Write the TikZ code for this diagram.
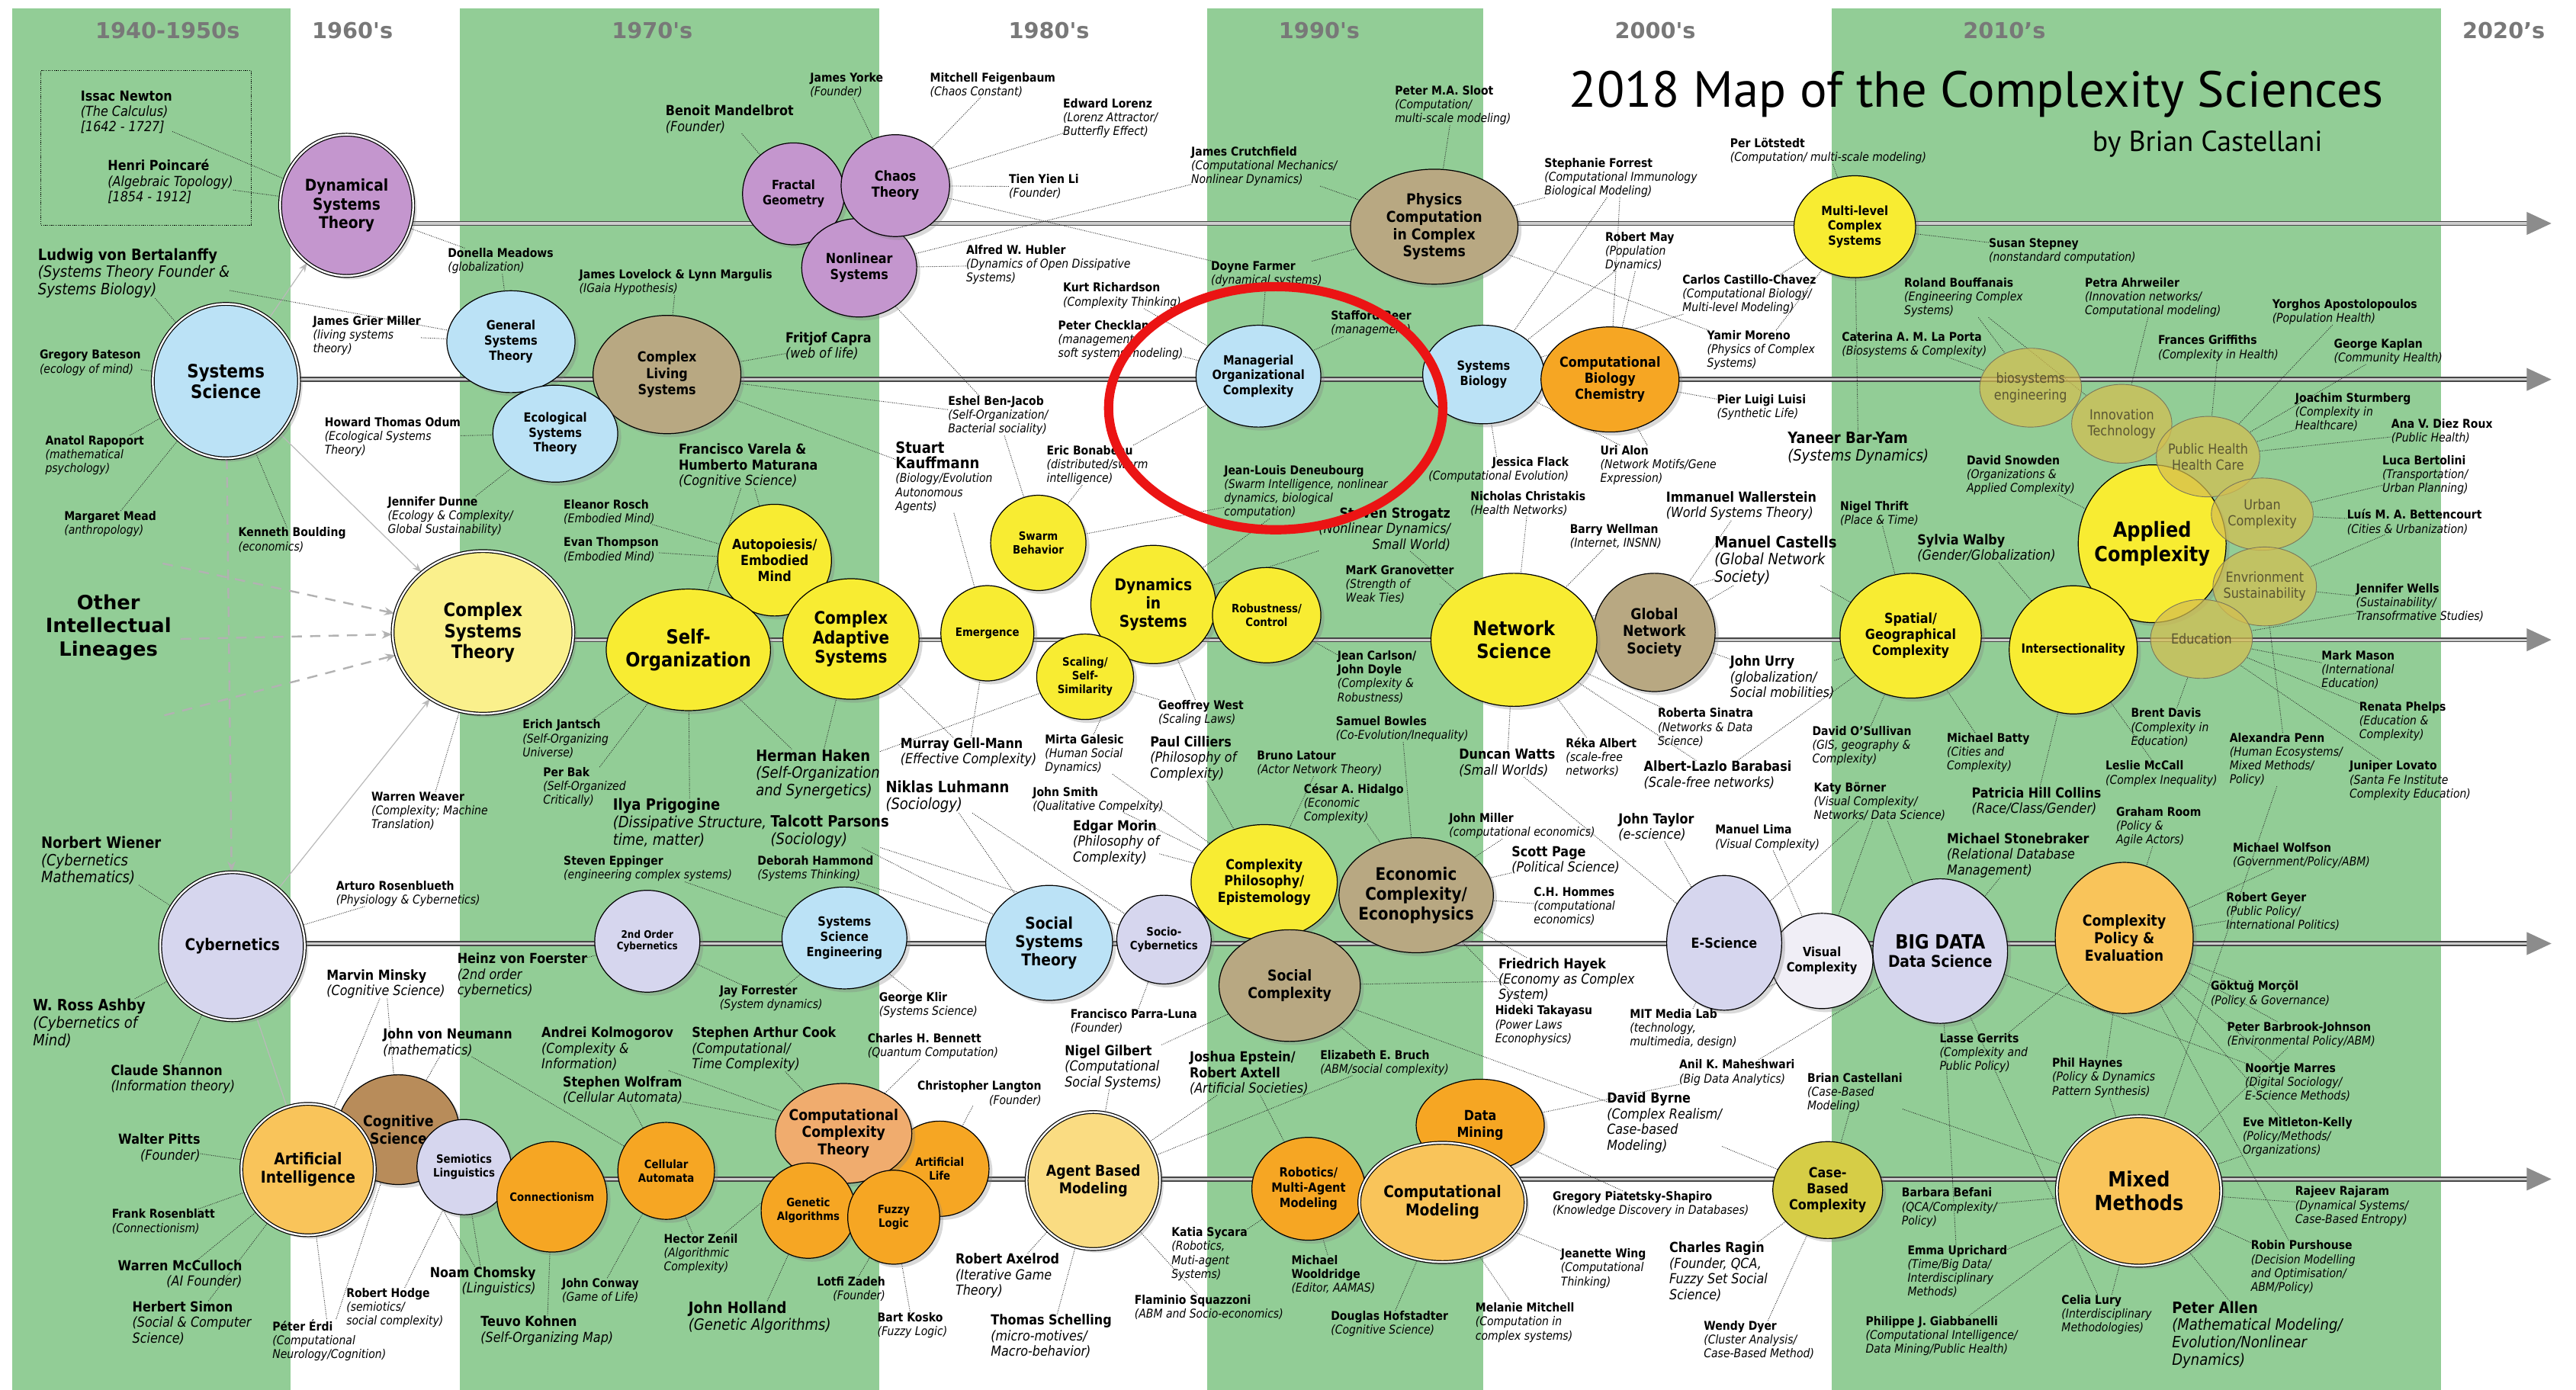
\documentclass[tikz,border=0pt]{standalone}
\usepackage{fontspec}
\setmainfont{DejaVu Sans}[FakeStretch=0.88]
\newfontfamily\widefont{DejaVu Sans}
\newfontfamily\titlefont{PT Sans}
\usetikzlibrary{shapes.geometric}
\usetikzlibrary{shadows}
\usetikzlibrary{arrows.meta}
\definecolor{band}{RGB}{146,205,150}
\definecolor{decgray}{RGB}{120,120,120}
\definecolor{cpurple}{RGB}{196,150,206}
\definecolor{cblue}{RGB}{187,226,246}
\definecolor{ctan}{RGB}{184,168,130}
\definecolor{cbrown}{RGB}{184,140,90}
\definecolor{cyell}{RGB}{248,236,50}
\definecolor{cpale}{RGB}{250,240,140}
\definecolor{clav}{RGB}{214,214,238}
\definecolor{clavl}{RGB}{240,238,246}
\definecolor{corange}{RGB}{246,166,35}
\definecolor{clorange}{RGB}{249,196,90}
\definecolor{cpeach}{RGB}{240,172,110}
\definecolor{cabm}{RGB}{250,220,130}
\definecolor{colive}{RGB}{214,205,70}
\definecolor{ckhaki}{RGB}{212,190,80}
\definecolor{ckhtext}{RGB}{90,85,50}
\definecolor{tldark}{RGB}{70,70,70}
\definecolor{tlgap}{RGB}{205,205,205}
\definecolor{arrowgray}{RGB}{140,140,140}
\definecolor{hlred}{RGB}{235,20,20}
\newcommand{\pn}[1]{{\upshape\bfseries #1}}
\newcommand{\pnb}[1]{{\upshape\bfseries\fontsize{13.5}{15}\selectfont #1}}
\pgfdeclarelayer{bands}
\pgfdeclarelayer{links}
\pgfsetlayers{bands,links,main}
\tikzset{
  ball/.style={ellipse, draw=black, line width=0.8pt, inner sep=0pt,
    drop shadow={opacity=0.3, shadow xshift=3pt, shadow yshift=-3pt}},
  ring/.style={double=white, double distance=1.6pt},
  sz/.style 2 args={minimum width=#1*0.1cm, minimum height=#2*0.1cm},
  tx/.style={font=\bfseries\fontsize{#1}{\the\numexpr#1*115/100\relax}\selectfont},
  pale/.style={ellipse, draw=ckhtext!80, line width=0.6pt, fill=ckhaki, fill opacity=0.72, inner sep=0pt},
  kt/.style={text=ckhtext, font=\fontsize{12}{14}\selectfont},
  every label/.append style={align=center},
  who/.style={anchor=north west, align=left, inner sep=0pt, font=\fontsize{10.5}{12}\selectfont\itshape},
  whom/.style={who, font=\fontsize{12}{13.5}\selectfont\itshape},
  whob/.style={who, font=\fontsize{13.5}{15}\selectfont\itshape},
  dec/.style={anchor=base, inner sep=0pt, text=decgray, font=\widefont\bfseries\fontsize{19}{22}\selectfont},
  lk/.style={densely dotted, line width=0.6pt, black!85},
  tline/.style={draw=tldark, line width=1.1pt, double=tlgap, double distance=2pt},
  lin/.style={draw=gray!60, dash pattern=on 9pt off 7pt, line width=1.6pt, -{Stealth[length=9pt, width=7pt]}},
  gar/.style={draw=gray!55, line width=0.8pt, -{Stealth[length=8pt, width=6pt]}}
}
\begin{document}
\begin{tikzpicture}[x=0.05cm, y=-0.05cm]
\useasboundingbox (0,0) rectangle (1568,846);

% decade bands
\begin{pgfonlayer}{bands}
\fill[band] (7.5,5) rectangle (177,846);
\fill[band] (280,5) rectangle (535,846);
\fill[band] (735,5) rectangle (903,846);
\fill[band] (1115,5) rectangle (1486,846);
\end{pgfonlayer}

\node[dec] (d40) at (102,23.5) {1940-1950s}; %
\node[dec] (d60) at (214.5,23.5) {1960's}; %
\node[dec] (d70) at (397,23.5) {1970's}; %
\node[dec] (d80) at (638.5,23.5) {1980's}; %
\node[dec] (d90) at (803,23.5) {1990's}; %
\node[dec] (d00) at (1007.5,23.5) {2000's}; %
\node[dec] (d10) at (1220,23.5) {2010’s}; %
\node[dec] (d20) at (1524,23.5) {2020’s}; %

\node[anchor=base west, inner sep=0pt, font=\titlefont\fontsize{44}{48}\selectfont] (title) at (955,65) {2018 Map of the Complexity Sciences}; %
\node[anchor=base west, inner sep=0pt, font=\titlefont\fontsize{25}{28}\selectfont] (byline) at (1273.5,92) {by Brian Castellani}; %

\node[draw, densely dotted, line width=0.8pt, minimum width=6.4cm, minimum height=4.7cm, inner sep=0pt] (oldbox) at (89,90) {}; %
\node[align=center, inner sep=0pt, font=\widefont\bfseries\fontsize{17}{20}\selectfont] (lineage) at (66,382) {Other\\Intellectual\\Lineages}; %

% fields, row by row
\node[ball, ring, fill=cpurple, sz={40.5}{43}, label={[tx=14]center:Dynamical\\Systems\\Theory}] (dst) at (211,125) {}; %
\node[ball, ring, fill=cblue, sz={44.5}{47}, label={[tx=16]center:Systems\\Science}] (ssci) at (137.5,232) {}; %
\node[ball, fill=cblue, sz={39}{31}, label={[tx=11]center:General\\Systems\\Theory}] (gst) at (311,208) {}; %
\node[ball, fill=ctan, sz={45}{36}, label={[tx=12]center:Complex\\Living\\Systems}] (cls) at (406,228) {}; %
\node[ball, fill=cblue, sz={38}{29.5}, label={[tx=11]center:Ecological\\Systems\\Theory}] (est) at (338,264) {}; %
\node[ball, fill=cpurple, sz={31}{31}, label={[tx=11]center:Fractal\\Geometry}] (frac) at (483,118) {}; %
\node[ball, fill=cpurple, sz={35}{30}, label={[tx=12]center:Nonlinear\\Systems}] (nls) at (523,163) {}; %
\node[ball, fill=cpurple, sz={33}{31}, label={[tx=12]center:Chaos\\Theory}] (chaos) at (545,113) {}; %
\node[ball, fill=ctan, sz={51}{35}, label={[tx=13]center:Physics\\Computation\\in Complex\\Systems}] (phys) at (873,138) {}; %
\node[ball, fill=cblue, sz={38}{31}, label={[tx=11]center:Managerial\\Organizational\\Complexity}] (moc) at (766,229) {}; %
\node[ball, fill=cblue, sz={37}{30}, label={[tx=11]center:Systems\\Biology}] (sbio) at (903,228) {}; %
\node[ball, fill=corange, sz={42}{32}, label={[tx=12]center:Computational\\Biology\\Chemistry}] (cbio) at (980,231) {}; %
\node[ball, fill=cyell, sz={37}{31}, label={[tx=11]center:Multi-level\\Complex\\Systems}] (mlcs) at (1129,138) {}; %

\node[ball, fill=cyell, sz={45}{48}, label={[tx=18]center:Applied\\Complexity}] (appl) at (1310,331) {}; %
\node[pale, sz={31}{24}, label={[kt]center:biosystems\\engineering}] (bioe) at (1236,236) {}; %
\node[pale, sz={30.5}{24}, label={[kt]center:Innovation\\Technology}] (innov) at (1291.5,258) {}; %
\node[pale, sz={31.5}{24.5}, label={[kt]center:Public Health\\Health Care}] (phc) at (1344,278) {}; %
\node[pale, sz={31}{22}, label={[kt]center:Urban\\Complexity}] (urban) at (1377,313) {}; %
\node[pale, sz={31.5}{24}, label={[kt]center:Envrionment\\Sustainability}] (envs) at (1378.5,357) {}; %
\node[pale, sz={31}{24}, label={[kt]center:Education}] (edu) at (1340,389) {}; %
\node[ball, fill=cyell, sz={39}{39}, label={[tx=11]center:Intersectionality}] (inter) at (1262,395.6) {}; %
\node[ball, fill=cyell, sz={43}{38}, label={[tx=12]center:Spatial/\\Geographical\\Complexity}] (spat) at (1163,387) {}; %
\node[ball, fill=ctan, sz={37}{36}, label={[tx=13]center:Global\\Network\\Society}] (gns) at (1007,385) {}; %
\node[ball, fill=cyell, sz={50.5}{40.5}, label={[tx=17]center:Network\\Science}] (netsci) at (921.5,389.5) {}; %

\node[ball, ring, fill=cpale, sz={55}{49.5}, label={[tx=16]center:Complex\\Systems\\Theory}] (cst) at (294,385) {}; %
\node[ball, fill=cyell, sz={34.6}{34}, label={[tx=12]center:Autopoiesis/\\Embodied\\Mind}] (auto) at (471.5,341) {}; %
\node[ball, fill=cyell, sz={50}{37}, label={[tx=17]center:Self-\\Organization}] (selforg) at (419,395.6) {}; %
\node[ball, fill=cyell, sz={41.4}{36.7}, label={[tx=15]center:Complex\\Adaptive\\Systems}] (cas) at (518,389) {}; %
\node[ball, fill=cyell, sz={28.3}{29}, label={[tx=10]center:Emergence}] (emer) at (601,385.5) {}; %
\node[ball, fill=cyell, sz={29}{29}, label={[tx=10]center:Swarm\\Behavior}] (swarm) at (632,330.5) {}; %
\node[ball, fill=cyell, sz={38}{36}, label={[tx=14]center:Dynamics\\in\\Systems}] (dyn) at (702,368) {}; %
\node[ball, fill=cyell, sz={29.5}{26}, label={[tx=10]center:Scaling/\\Self-\\Similarity}] (scal) at (660.5,412) {}; %
\node[ball, fill=cyell, sz={33}{29}, label={[tx=10]center:Robustness/\\Control}] (robu) at (771,374.5) {}; %

\node[ball, ring, fill=clav, sz={44}{45}, label={[tx=14]center:Cybernetics}] (cyb) at (141.5,576) {}; %
\node[ball, fill=clav, sz={32}{31}, label={[tx=9]center:2nd Order\\Cybernetics}] (cyb2) at (394,573) {}; %
\node[ball, fill=cblue, sz={38}{31}, label={[tx=11]center:Systems\\Science\\Engineering}] (sse) at (514,571) {}; %
\node[ball, fill=cblue, sz={38.6}{35}, label={[tx=14]center:Social\\Systems\\Theory}] (sst) at (638.6,574) {}; %
\node[ball, fill=clav, sz={28.7}{27}, label={[tx=10]center:Socio-\\Cybernetics}] (socyb) at (708.5,572) {}; %
\node[ball, fill=cyell, sz={44.5}{35}, label={[tx=12]center:Complexity\\Philosophy/\\Epistemology}] (cphil) at (769.5,537) {}; %
\node[ball, fill=ctan, sz={43}{34}, label={[tx=13]center:Social\\Complexity}] (socc) at (785,600) {}; %
\node[ball, fill=ctan, sz={47}{35}, label={[tx=15]center:Economic\\Complexity/\\Econophysics}] (econ) at (862,545) {}; %
\node[ball, fill=clavl, sz={31}{29}, label={[tx=11]center:Visual\\Complexity}] (visc) at (1109,585) {}; %
\node[ball, fill=clav, sz={35}{41}, label={[tx=12]center:E-Science}] (esci) at (1049.5,574) {}; %
\node[ball, fill=clav, sz={41}{44}, label={[tx=14]center:{\fontsize{17}{19}\selectfont BIG DATA}\\Data Science}] (bigd) at (1181,579) {}; %
\node[ball, fill=clorange, sz={42}{46}, label={[tx=13]center:Complexity\\Policy \&\\Evaluation}] (cpol) at (1293,571) {}; %

\node[ball, fill=cbrown, sz={37}{33.4}, label={[tx=13]center:Cognitive\\Science}] (cogs) at (242.5,687.7) {}; %
\node[ball, ring, fill=clorange, sz={40.6}{40}, label={[tx=14]center:Artificial\\Intelligence}] (ai) at (187.5,712) {}; %
\node[ball, fill=clav, sz={28.7}{29}, label={[tx=10]center:Semiotics\\Linguistics}] (semi) at (282.5,710.5) {}; %
\node[ball, fill=corange, sz={33.5}{33.6}, label={[tx=10]center:Connectionism}] (conn) at (336,728.6) {}; %
\node[ball, fill=corange, sz={29.4}{29.5}, label={[tx=10]center:Cellular\\Automata}] (cell) at (405.5,712.8) {}; %
\node[ball, fill=corange, sz={30}{29}, label={[tx=10]center:Artificial\\Life}] (alife) at (572,711.5) {}; %
\node[ball, fill=cpeach, sz={41.5}{30.4}, label={[tx=13]center:Computational\\Complexity\\Theory}] (cct) at (513.5,690) {}; %
\node[ball, fill=corange, sz={28.7}{29}, label={[tx=10]center:Genetic\\Algorithms}] (gen) at (492,737) {}; %
\node[ball, fill=corange, sz={28}{28.6}, label={[tx=10]center:Fuzzy\\Logic}] (fuzzy) at (544,741) {}; %
\node[ball, ring, fill=cabm, sz={40.6}{41.7}, label={[tx=13]center:Agent Based\\Modeling}] (abm) at (665.5,718.7) {}; %
\node[ball, fill=corange, sz={34.5}{31.3}, label={[tx=11]center:Robotics/\\Multi-Agent\\Modeling}] (robo) at (796.5,723.7) {}; %
\node[ball, fill=corange, sz={39}{28}, label={[tx=12]center:Data\\Mining}] (dmin) at (901,685) {}; %
\node[ball, ring, fill=clorange, sz={50.6}{36.3}, label={[tx=14]center:Computational\\Modeling}] (cmod) at (878,732) {}; %
\node[ball, fill=colive, sz={33.4}{29.5}, label={[tx=12]center:Case-\\Based\\Complexity}] (cbc) at (1112.5,724.5) {}; %
\node[ball, ring, fill=clorange, sz={50}{45.5}, label={[tx=18]center:Mixed\\Methods}] (mixed) at (1302,725) {}; %

% people
\node[whom] (newton) at (49,55) {\pn{Issac Newton}\\(The Calculus)\\{[}1642 - 1727{]}}; %
\node[whom] (poinc) at (65.5,97) {\pn{Henri Poincaré}\\(Algebraic Topology)\\{[}1854 - 1912{]}}; %
\node[whob] (ludwig) at (23,151) {\pn{Ludwig von Bertalanffy}\\(Systems Theory Founder \&\\Systems Biology)}; %
\node[who] (bateson) at (24,213) {\pn{Gregory Bateson}\\(ecology of mind)}; %
\node[who] (rapoport) at (27.5,265) {\pn{Anatol Rapoport}\\(mathematical\\psychology)}; %
\node[who] (mead) at (39,311) {\pn{Margaret Mead}\\(anthropology)}; %
\node[who] (boulding) at (145,321) {\pn{Kenneth Boulding}\\(economics)}; %
\node[who] (meadows) at (272.5,151) {\pn{Donella Meadows}\\(globalization)}; %
\node[who] (miller) at (190.5,192) {\pn{James Grier Miller}\\(living systems\\theory)}; %
\node[who] (odum) at (197.5,254) {\pn{Howard Thomas Odum}\\(Ecological Systems\\Theory)}; %
\node[who] (dunne) at (236,302) {\pn{Jennifer Dunne}\\(Ecology \& Complexity/\\Global Sustainability)}; %
\node[who] (lovelock) at (352.5,164) {\pn{James Lovelock \& Lynn Margulis}\\(IGaia Hypothesis)}; %
\node[whom] (capra) at (478,202) {\pn{Fritjof Capra}\\(web of life)}; %
\node[whom] (mandel) at (405,64) {\pn{Benoit Mandelbrot}\\(Founder)}; %
\node[who] (yorke) at (493,44) {\pn{James Yorke}\\(Founder)}; %
\node[who] (feigen) at (566,44) {\pn{Mitchell Feigenbaum}\\(Chaos Constant)}; %
\node[who] (lorenz) at (647,60) {\pn{Edward Lorenz}\\(Lorenz Attractor/\\Butterfly Effect)}; %
\node[who] (li) at (614,106) {\pn{Tien Yien Li}\\(Founder)}; %
\node[who] (crutch) at (725,89) {\pn{James Crutchfield}\\(Computational Mechanics/\\Nonlinear Dynamics)}; %
\node[who] (hubler) at (588,149) {\pn{Alfred W. Hubler}\\(Dynamics of Open Dissipative\\Systems)}; %
\node[who] (farmer) at (737,159) {\pn{Doyne Farmer}\\(dynamical systems)}; %
\node[who] (richardson) at (647,172) {\pn{Kurt Richardson}\\(Complexity Thinking)}; %
\node[who] (checkland) at (644,195) {\pn{Peter Checkland}\\(management/\\soft systems modeling)}; %
\node[who] (beer) at (810,189) {\pn{Stafford Beer}\\(management)}; %
\node[who] (benjacob) at (577,241) {\pn{Eshel Ben-Jacob}\\(Self-Organization/\\Bacterial sociality)}; %
\node[who] (bonabeau) at (637,271) {\pn{Eric Bonabeau}\\(distributed/swarm\\intelligence)}; %
\node[who] (kauffman) at (545,269) {\pnb{Stuart}\\[1pt]\pnb{Kauffmann}\\(Biology/Evolution\\Autonomous\\Agents)}; %
\node[whom] (varela) at (413,270) {\pn{Francisco Varela \&}\\\pn{Humberto Maturana}\\(Cognitive Science)}; %
\node[who] (rosch) at (343,304) {\pn{Eleanor Rosch}\\(Embodied Mind)}; %
\node[who] (thompson) at (343,327) {\pn{Evan Thompson}\\(Embodied Mind)}; %
\node[who] (sloot) at (849,52) {\pn{Peter M.A. Sloot}\\(Computation/\\multi-scale modeling)}; %
\node[who] (forrest) at (940,96) {\pn{Stephanie Forrest}\\(Computational Immunology\\Biological Modeling)}; %
\node[who] (may) at (977,141) {\pn{Robert May}\\(Population\\Dynamics)}; %
\node[who] (castillo) at (1024,167) {\pn{Carlos Castillo-Chavez}\\(Computational Biology/\\Multi-level Modeling)}; %
\node[who] (moreno) at (1039,201) {\pn{Yamir Moreno}\\(Physics of Complex\\Systems)}; %
\node[who] (luisi) at (1045,240) {\pn{Pier Luigi Luisi}\\(Synthetic Life)}; %
\node[who] (lotstedt) at (1053,84) {\pn{Per Lötstedt}\\(Computation/ multi-scale modeling)}; %
\node[who] (stepney) at (1210.5,145) {\pn{Susan Stepney}\\(nonstandard computation)}; %
\node[whob] (baryam) at (1088,263) {\pn{Yaneer Bar-Yam}\\(Systems Dynamics)}; %
\node[who] (bouffanais) at (1159,169) {\pn{Roland Bouffanais}\\(Engineering Complex\\Systems)}; %
\node[who] (laporta) at (1121,202) {\pn{Caterina A. M. La Porta}\\(Biosystems \& Complexity)}; %
\node[who] (ahrweiler) at (1269,169) {\pn{Petra Ahrweiler}\\(Innovation networks/\\Computational modeling)}; %
\node[who] (griffiths) at (1313.5,204) {\pn{Frances Griffiths}\\(Complexity in Health)}; %
\node[who] (apostol) at (1383,182) {\pn{Yorghos Apostolopoulos}\\(Population Health)}; %
\node[who] (kaplan) at (1420.5,206) {\pn{George Kaplan}\\(Community Health)}; %
\node[who] (sturmberg) at (1397,239) {\pn{Joachim Sturmberg}\\(Complexity in\\Healthcare)}; %
\node[who] (diezroux) at (1455.5,255) {\pn{Ana V. Diez Roux}\\(Public Health)}; %
\node[who] (bertolini) at (1450,277) {\pn{Luca Bertolini}\\(Transportation/\\Urban Planning)}; %
\node[who] (bettencourt) at (1428.5,310) {\pn{Luís M. A. Bettencourt}\\(Cities \& Urbanization)}; %
\node[who] (wells) at (1434,355) {\pn{Jennifer Wells}\\(Sustainability/\\Transofrmative Studies)}; %
\node[who] (snowden) at (1197,277) {\pn{David Snowden}\\(Organizations \&\\Applied Complexity)}; %
\node[whom] (walby) at (1167,325) {\pn{Sylvia Walby}\\(Gender/Globalization)}; %
\node[who] (thrift) at (1120,305) {\pn{Nigel Thrift}\\(Place \& Time)}; %
\node[who] (mason) at (1413,396) {\pn{Mark Mason}\\(International\\Education)}; %
\node[who] (phelps) at (1436,427) {\pn{Renata Phelps}\\(Education \&\\Complexity)}; %
\node[who] (penn) at (1357,446) {\pn{Alexandra Penn}\\(Human Ecosystems/\\Mixed Methods/\\Policy)}; %
\node[who] (lovato) at (1430,463) {\pn{Juniper Lovato}\\(Santa Fe Institute\\Complexity Education)}; %
\node[who] (davis) at (1297,431) {\pn{Brent Davis}\\(Complexity in\\Education)}; %
\node[who] (mccall) at (1281.5,463) {\pn{Leslie McCall}\\(Complex Inequality)}; %
\node[who] (batty) at (1185,446) {\pn{Michael Batty}\\(Cities and\\Complexity)}; %
\node[whom] (collins) at (1200,479) {\pn{Patricia Hill Collins}\\(Race/Class/Gender)}; %
\node[who] (room) at (1288,491) {\pn{Graham Room}\\(Policy \&\\Agile Actors)}; %
\node[whom] (stonebraker) at (1185,507) {\pn{Michael Stonebraker}\\(Relational Database\\Management)}; %
\node[who] (wolfson) at (1359,513) {\pn{Michael Wolfson}\\(Government/Policy/ABM)}; %
\node[who] (geyer) at (1355,543) {\pn{Robert Geyer}\\(Public Policy/\\International Politics)}; %
\node[who] (morcol) at (1345.5,597) {\pn{Göktuğ Morçöl}\\(Policy \& Governance)}; %
\node[who] (barbrook) at (1355.5,622) {\pn{Peter Barbrook-Johnson}\\(Environmental Policy/ABM)}; %
\node[who] (marres) at (1366.5,647) {\pn{Noortje Marres}\\(Digital Sociology/\\E-Science Methods)}; %
\node[who] (mitleton) at (1365,680) {\pn{Eve Mitleton-Kelly}\\(Policy/Methods/\\Organizations)}; %
\node[who] (rajaram) at (1397,722) {\pn{Rajeev Rajaram}\\(Dynamical Systems/\\Case-Based Entropy)}; %
\node[who] (purshouse) at (1370,755) {\pn{Robin Purshouse}\\(Decision Modelling\\and Optimisation/\\ABM/Policy)}; %
\node[whob] (allen) at (1322,792) {\pn{Peter Allen}\\(Mathematical Modeling/\\Evolution/Nonlinear\\Dynamics)}; %
\node[who] (lury) at (1254.75,788) {\pn{Celia Lury}\\(Interdisciplinary\\Methodologies)}; %
\node[who] (haynes) at (1249,644) {\pn{Phil Haynes}\\(Policy \& Dynamics\\Pattern Synthesis)}; %
\node[who] (gerrits) at (1180.5,629) {\pn{Lasse Gerrits}\\(Complexity and\\Public Policy)}; %
\node[who] (befani) at (1157.5,723) {\pn{Barbara Befani}\\(QCA/Complexity/\\Policy)}; %
\node[who] (uprichard) at (1161,758) {\pn{Emma Uprichard}\\(Time/Big Data/\\Interdisciplinary\\Methods)}; %
\node[who] (giabbanelli) at (1135.5,801) {\pn{Philippe J. Giabbanelli}\\(Computational Intelligence/\\Data Mining/Public Health)}; %
\node[who] (castellani) at (1100,653) {\pn{Brian Castellani}\\(Case-Based\\Modeling)}; %
\node[who] (maheshwari) at (1022,645) {\pn{Anil K. Maheshwari}\\(Big Data Analytics)}; %
\node[who] (dyer) at (1037,804) {\pn{Wendy Dyer}\\(Cluster Analysis/\\Case-Based Method)}; %
\node[whom] (ragin) at (1016,756) {\pn{Charles Ragin}\\(Founder, QCA,\\Fuzzy Set Social\\Science)}; %
\node[whom] (byrne) at (978,665) {\pn{David Byrne}\\(Complex Realism/\\Case-based\\Modeling)}; %
\node[who] (piatetsky) at (945,725) {\pn{Gregory Piatetsky-Shapiro}\\(Knowledge Discovery in Databases)}; %
\node[who] (wing) at (950,760) {\pn{Jeanette Wing}\\(Computational\\Thinking)}; %
\node[who] (mitchell) at (898,793) {\pn{Melanie Mitchell}\\(Computation in\\complex systems)}; %
\node[who] (hofstadter) at (810,798) {\pn{Douglas Hofstadter}\\(Cognitive Science)}; %
\node[who] (wooldridge) at (786,764) {\pn{Michael}\\\pn{Wooldridge}\\(Editor, AAMAS)}; %
\node[who] (medialab) at (992,614) {\pn{MIT Media Lab}\\(technology,\\multimedia, design)}; %
\node[whom] (taylor) at (985,495) {\pn{John Taylor}\\(e-science)}; %
\node[who] (lima) at (1044,502) {\pn{Manuel Lima}\\(Visual Complexity)}; %
\node[who] (borner) at (1104,476) {\pn{Katy Börner}\\(Visual Complexity/\\Networks/ Data Science)}; %
\node[who] (osullivan) at (1103,442) {\pn{David O'Sullivan}\\(GIS, geography \&\\Complexity)}; %
\node[whom] (urry) at (1053,399) {\pn{John Urry}\\(globalization/\\Social mobilities)}; %
\node[whob] (castells) at (1043.5,326) {\pn{Manuel Castells}\\(Global Network\\Society)}; %
\node[whom] (wallerstein) at (1014,299) {\pn{Immanuel Wallerstein}\\(World Systems Theory)}; %
\node[who] (wellman) at (955.5,319) {\pn{Barry Wellman}\\(Internet, INSNN)}; %
\node[who] (christakis) at (895,299) {\pn{Nicholas Christakis}\\(Health Networks)}; %
\node[who, anchor=north east, align=right] (flack) at (955,278) {\pn{Jessica Flack}\\(Computational Evolution)}; %
\node[who] (alon) at (974,271) {\pn{Uri Alon}\\(Network Motifs/Gene\\Expression)}; %
\node[who] (deneubourg) at (745,283) {\pn{Jean-Louis Deneubourg}\\(Swarm Intelligence, nonlinear\\dynamics, biological\\computation)}; %
\node[whom, anchor=north east, align=right] (strogatz) at (883,309) {\pn{Steven Strogatz}\\(Nonlinear Dynamics/\\Small World)}; %
\node[who] (granovetter) at (819,344) {\pn{MarK Granovetter}\\(Strength of\\Weak Ties)}; %
\node[who] (carlson) at (814,396) {\pn{Jean Carlson/}\\\pn{John Doyle}\\(Complexity \&\\Robustness)}; %
\node[who] (bowles) at (813,436) {\pn{Samuel Bowles}\\(Co-Evolution/Inequality)}; %
\node[who] (latour) at (765,457) {\pn{Bruno Latour}\\(Actor Network Theory)}; %
\node[who] (hidalgo) at (793.5,477) {\pn{César A. Hidalgo}\\(Economic\\Complexity)}; %
\node[who] (jmiller) at (882,495) {\pn{John Miller}\\(computational economics)}; %
\node[whom] (page) at (920,515) {\pn{Scott Page}\\(Political Science)}; %
\node[who] (hommes) at (933.5,540) {\pn{C.H. Hommes}\\(computational\\economics)}; %
\node[whom] (watts) at (888,456) {\pn{Duncan Watts}\\(Small Worlds)}; %
\node[who] (albert) at (953,449) {\pn{Réka Albert}\\(scale-free\\networks)}; %
\node[who] (sinatra) at (1009,431) {\pn{Roberta Sinatra}\\(Networks \& Data\\Science)}; %
\node[whom] (barabasi) at (1000.5,463) {\pn{Albert-Lazlo Barabasi}\\(Scale-free networks)}; %
\node[who] (west) at (705,426) {\pn{Geoffrey West}\\(Scaling Laws)}; %
\node[who] (galesic) at (636,447) {\pn{Mirta Galesic}\\(Human Social\\Dynamics)}; %
\node[whom] (cilliers) at (700,448) {\pn{Paul Cilliers}\\(Philosophy of\\Complexity)}; %
\node[whom] (gellmann) at (548,449) {\pn{Murray Gell-Mann}\\(Effective Complexity)}; %
\node[whob] (haken) at (460,456) {\pn{Herman Haken}\\(Self-Organization\\and Synergetics)}; %
\node[whob] (luhmann) at (539,475) {\pn{Niklas Luhmann}\\(Sociology)}; %
\node[who] (jsmith) at (628.5,479) {\pn{John Smith}\\(Qualitative Compelxity)}; %
\node[whom] (morin) at (653,499) {\pn{Edgar Morin}\\(Philosophy of\\Complexity)}; %
\node[whob] (parsons) at (469,496) {\pn{Talcott Parsons}\\(Sociology)}; %
\node[who] (hammond) at (461,521) {\pn{Deborah Hammond}\\(Systems Thinking)}; %
\node[who] (eppinger) at (343,521) {\pn{Steven Eppinger}\\(engineering complex systems)}; %
\node[whob] (prigogine) at (373,486) {\pn{Ilya Prigogine}\\(Dissipative Structure,\\time, matter)}; %
\node[who] (jantsch) at (318,438) {\pn{Erich Jantsch}\\(Self-Organizing\\Universe)}; %
\node[who] (bak) at (330.5,467) {\pn{Per Bak}\\(Self-Organized\\Critically)}; %
\node[who] (weaver) at (226,482) {\pn{Warren Weaver}\\(Complexity; Machine\\Translation)}; %
\node[whob] (wiener) at (25,509) {\pn{Norbert Wiener}\\(Cybernetics\\Mathematics)}; %
\node[who] (rosenblueth) at (204.5,536) {\pn{Arturo Rosenblueth}\\(Physiology \& Cybernetics)}; %
\node[whob] (ashby) at (20,608) {\pn{W. Ross Ashby}\\(Cybernetics of\\Mind)}; %
\node[whom] (shannon) at (67.5,648) {\pn{Claude Shannon}\\(Information theory)}; %
\node[whom, anchor=north east, align=right] (pitts) at (122,690) {\pn{Walter Pitts}\\(Founder)}; %
\node[who] (rosenblatt) at (68,736) {\pn{Frank Rosenblatt}\\(Connectionism)}; %
\node[whom, anchor=north east, align=right] (mcculloch) at (147.5,767) {\pn{Warren McCulloch}\\(AI Founder)}; %
\node[whom] (simon) at (80.5,792) {\pn{Herbert Simon}\\(Social \& Computer\\Science)}; %
\node[who] (erdi) at (165.75,803) {\pn{Péter Érdi}\\(Computational\\Neurology/Cognition)}; %
\node[who] (hodge) at (210.75,784) {\pn{Robert Hodge}\\(semiotics/\\social complexity)}; %
\node[whom, anchor=north east, align=right] (chomsky) at (326.25,771) {\pn{Noam Chomsky}\\(Linguistics)}; %
\node[whom] (minsky) at (198.75,590) {\pn{Marvin Minsky}\\(Cognitive Science)}; %
\node[whom] (neumann) at (233,626) {\pn{John von Neumann}\\(mathematics)}; %
\node[whom] (foerster) at (278.25,580) {\pn{Heinz von Foerster}\\(2nd order\\cybernetics)}; %
\node[whom] (kolmogorov) at (329.5,625) {\pn{Andrei Kolmogorov}\\(Complexity \&\\Information)}; %
\node[whom] (wolfram) at (342.5,655) {\pn{Stephen Wolfram}\\(Cellular Automata)}; %
\node[whom] (cook) at (421,625) {\pn{Stephen Arthur Cook}\\(Computational/\\Time Complexity)}; %
\node[who] (bennett) at (528,629) {\pn{Charles H. Bennett}\\(Quantum Computation)}; %
\node[who, anchor=north east, align=right] (langton) at (634,658) {\pn{Christopher Langton}\\(Founder)}; %
\node[who] (forrester) at (438,600) {\pn{Jay Forrester}\\(System dynamics)}; %
\node[who] (klir) at (535,604) {\pn{George Klir}\\(Systems Science)}; %
\node[who] (parraluna) at (651.5,614) {\pn{Francisco Parra-Luna}\\(Founder)}; %
\node[whom] (gilbert) at (648,636) {\pn{Nigel Gilbert}\\(Computational\\Social Systems)}; %
\node[whom] (epstein) at (724,640) {\pn{Joshua Epstein/}\\\pn{Robert Axtell}\\(Artificial Societies)}; %
\node[who] (bruch) at (803.5,639) {\pn{Elizabeth E. Bruch}\\(ABM/social complexity)}; %
\node[who] (zenil) at (404,751) {\pn{Hector Zenil}\\(Algorithmic\\Complexity)}; %
\node[who] (conway) at (342,778) {\pn{John Conway}\\(Game of Life)}; %
\node[whom] (kohnen) at (292.5,801) {\pn{Teuvo Kohnen}\\(Self-Organizing Map)}; %
\node[whob] (holland) at (419,792) {\pn{John Holland}\\(Genetic Algorithms)}; %
\node[who, anchor=north east, align=right] (zadeh) at (539,777) {\pn{Lotfi Zadeh}\\(Founder)}; %
\node[who] (kosko) at (534,799) {\pn{Bart Kosko}\\(Fuzzy Logic)}; %
\node[whom] (axelrod) at (581.5,763) {\pn{Robert Axelrod}\\(Iterative Game\\Theory)}; %
\node[whom] (schelling) at (603,800) {\pn{Thomas Schelling}\\(micro-motives/\\Macro-behavior)}; %
\node[who] (squazzoni) at (690.5,788) {\pn{Flaminio Squazzoni}\\(ABM and Socio-economics)}; %
\node[who] (sycara) at (713,747) {\pn{Katia Sycara}\\(Robotics,\\Muti-agent\\Systems)}; %
\node[whom] (hayek) at (912,583) {\pn{Friedrich Hayek}\\(Economy as Complex\\System)}; %
\node[who] (takayasu) at (910,612) {\pn{Hideki Takayasu}\\(Power Laws\\Econophysics)}; %

% timelines, lineages and links
\coordinate (t1) at (1540,136);
\coordinate (t2) at (1540,231);
\coordinate (t3) at (1540,389.5);
\coordinate (t4) at (1540,574.4);
\coordinate (t5) at (1540,717.8);
\coordinate (ol1) at (99,343);
\coordinate (ol2) at (110,389);
\coordinate (ol3) at (100,435.5);
\begin{pgfonlayer}{links}
\draw[tline] (dst |- t1) -- (t1);
\draw[tline] (ssci |- t2) -- (t2);
\draw[tline] (cst |- t3) -- (t3);
\draw[tline] (cyb |- t4) -- (t4);
\draw[tline] (ai |- t5) -- (t5);
\fill[arrowgray] (t1) ++(-2,-7) -- ++(15,7) -- ++(-15,7) -- cycle;
\fill[arrowgray] (t2) ++(-2,-7) -- ++(15,7) -- ++(-15,7) -- cycle;
\fill[arrowgray] (t3) ++(-2,-7) -- ++(15,7) -- ++(-15,7) -- cycle;
\fill[arrowgray] (t4) ++(-2,-7) -- ++(15,7) -- ++(-15,7) -- cycle;
\fill[arrowgray] (t5) ++(-2,-7) -- ++(15,7) -- ++(-15,7) -- cycle;
\draw[lin] (ol1) -- (cst); %
\draw[lin] (ol2) -- (cst); %
\draw[lin] (ol3) -- (cst); %
\draw[lin] (ssci) -- (cyb); %
\draw[gar] (ssci) -- (cst); %
\draw[gar] (cyb) -- (cst); %
\draw[gar] (ssci) -- (dst); %
\draw[draw=gray!55, line width=0.8pt] (cyb) -- (ai); %
\draw[lk] (newton) -- (dst) (poinc) -- (dst);
\draw[lk] (ludwig) -- (ssci) (ludwig) -- (gst);
\draw[lk] (bateson) -- (ssci) (rapoport) -- (ssci) (mead) -- (ssci) (boulding) -- (ssci);
\draw[lk] (meadows) -- (dst) (meadows) -- (gst) (miller) -- (gst);
\draw[lk] (odum) -- (est) (dunne) -- (est) (lovelock) -- (cls) (capra) -- (cls);
\draw[lk] (mandel) -- (frac) (yorke) -- (chaos) (feigen) -- (chaos) (lorenz) -- (chaos) (li) -- (chaos);
\draw[lk] (crutch) -- (nls) (crutch) -- (phys) (hubler) -- (nls);
\draw[lk] (farmer) -- (chaos) (farmer) -- (moc) (farmer) -- (phys);
\draw[lk] (richardson) -- (moc) (checkland) -- (moc) (beer) -- (moc);
\draw[lk] (benjacob) -- (cls) (benjacob) -- (nls) (benjacob) -- (swarm);
\draw[lk] (bonabeau) -- (swarm) (bonabeau) -- (moc);
\draw[lk] (kauffman) -- (emer) (kauffman) -- (cls);
\draw[lk] (varela) -- (auto) (varela) -- (selforg) (rosch) -- (auto) (thompson) -- (auto);
\draw[lk] (sloot) -- (phys) (forrest) -- (phys) (forrest) -- (sbio) (forrest) -- (cbio);
\draw[lk] (may) -- (sbio) (may) -- (cbio) (castillo) -- (mlcs) (castillo) -- (sbio);
\draw[lk] (moreno) -- (mlcs) (moreno) -- (phys) (luisi) -- (cbio);
\draw[lk] (lotstedt) -- (mlcs) (stepney) -- (mlcs) (baryam) -- (mlcs);
\draw[lk] (bouffanais) -- (bioe) (bouffanais) -- (innov) (laporta) -- (bioe) (ahrweiler) -- (innov);
\draw[lk] (griffiths) -- (phc) (apostol) -- (phc) (kaplan) -- (phc) (sturmberg) -- (phc) (diezroux) -- (phc);
\draw[lk] (bertolini) -- (urban) (bettencourt) -- (urban) (bettencourt) -- (envs);
\draw[lk] (wells) -- (envs) (wells) -- (edu) (snowden) -- (appl);
\draw[lk] (walby) -- (inter) (thrift) -- (spat);
\draw[lk] (mason) -- (edu) (phelps) -- (edu) (lovato) -- (edu) (davis) -- (edu);
\draw[lk] (penn) -- (envs) (penn) -- (mixed);
\draw[lk] (mccall) -- (inter) (batty) -- (spat) (collins) -- (inter);
\draw[lk] (room) -- (cpol) (stonebraker) -- (bigd) (wolfson) -- (cpol) (geyer) -- (cpol) (morcol) -- (cpol);
\draw[lk] (barbrook) -- (cpol) (barbrook) -- (mixed) (marres) -- (cpol) (marres) -- (bigd);
\draw[lk] (mitleton) -- (cpol) (mitleton) -- (mixed) (rajaram) -- (mixed);
\draw[lk] (purshouse) -- (cpol) (purshouse) -- (mixed) (allen) -- (mixed);
\draw[lk] (lury) -- (mixed) (lury) -- (bigd) (haynes) -- (cpol) (haynes) -- (mixed) (gerrits) -- (cpol);
\draw[lk] (befani) -- (mixed) (uprichard) -- (mixed) (uprichard) -- (bigd) (giabbanelli) -- (mixed);
\draw[lk] (castellani) -- (cbc) (castellani) -- (mixed) (maheshwari) -- (dmin) (maheshwari) -- (bigd);
\draw[lk] (dyer) -- (cbc) (ragin) -- (cbc) (byrne) -- (cbc) (byrne) -- (socc);
\draw[lk] (piatetsky) -- (dmin) (wing) -- (cmod) (mitchell) -- (cmod) (hofstadter) -- (cmod) (wooldridge) -- (robo);
\draw[lk] (medialab) -- (esci) (medialab) -- (visc) (taylor) -- (esci) (lima) -- (visc);
\draw[lk] (borner) -- (visc) (borner) -- (bigd) (borner) -- (esci) (osullivan) -- (spat);
\draw[lk] (urry) -- (spat) (urry) -- (gns) (castells) -- (gns) (castells) -- (spat) (castells) -- (netsci);
\draw[lk] (wallerstein) -- (gns) (wellman) -- (netsci) (christakis) -- (netsci);
\draw[lk] (flack) -- (sbio) (alon) -- (sbio) (alon) -- (cbio);
\draw[lk] (deneubourg) -- (swarm) (deneubourg) -- (dyn) (strogatz) -- (dyn) (strogatz) -- (netsci);
\draw[lk] (granovetter) -- (netsci) (carlson) -- (robu) (bowles) -- (econ) (latour) -- (cphil);
\draw[lk] (hidalgo) -- (econ) (jmiller) -- (econ) (page) -- (econ) (hommes) -- (econ);
\draw[lk] (watts) -- (netsci) (watts) -- (esci) (albert) -- (netsci) (sinatra) -- (netsci);
\draw[lk] (barabasi) -- (netsci) (barabasi) -- (spat);
\draw[lk] (west) -- (scal) (west) -- (dyn) (galesic) -- (dyn) (galesic) -- (cphil) (cilliers) -- (cphil);
\draw[lk] (gellmann) -- (emer) (gellmann) -- (cas);
\draw[lk] (haken) -- (selforg) (haken) -- (cas) (haken) -- (scal);
\draw[lk] (luhmann) -- (sst) (luhmann) -- (socyb) (jsmith) -- (cphil) (morin) -- (cphil);
\draw[lk] (parsons) -- (sst) (parsons) -- (socyb) (hammond) -- (sst) (eppinger) -- (sse);
\draw[lk] (prigogine) -- (selforg) (jantsch) -- (selforg) (bak) -- (selforg) (weaver) -- (cst);
\draw[lk] (wiener) -- (cyb) (rosenblueth) -- (cyb) (ashby) -- (cyb) (shannon) -- (cyb);
\draw[lk] (pitts) -- (ai) (rosenblatt) -- (ai) (mcculloch) -- (ai) (simon) -- (ai);
\draw[lk] (erdi) -- (ai) (erdi) -- (cogs) (hodge) -- (semi) (chomsky) -- (semi) (chomsky) -- (cogs);
\draw[lk] (minsky) -- (ai) (minsky) -- (cogs) (neumann) -- (cogs) (neumann) -- (cell);
\draw[lk] (foerster) -- (cyb2) (kolmogorov) -- (cct) (wolfram) -- (cct) (wolfram) -- (cell);
\draw[lk] (cook) -- (cct) (bennett) -- (cct) (langton) -- (alife);
\draw[lk] (forrester) -- (cyb2) (forrester) -- (sse) (klir) -- (sse) (parraluna) -- (socyb);
\draw[lk] (gilbert) -- (abm) (gilbert) -- (socc) (epstein) -- (abm) (epstein) -- (robo);
\draw[lk] (bruch) -- (socc) (bruch) -- (abm);
\draw[lk] (zenil) -- (cct) (zenil) -- (cell) (conway) -- (cell) (kohnen) -- (conn) (holland) -- (gen);
\draw[lk] (zadeh) -- (fuzzy) (kosko) -- (fuzzy);
\draw[lk] (axelrod) -- (abm) (schelling) -- (abm) (squazzoni) -- (abm) (sycara) -- (robo);
\draw[lk] (hayek) -- (econ) (hayek) -- (socc) (takayasu) -- (econ);
\end{pgfonlayer}

% highlight
\node[draw=hlred, line width=8pt, ellipse, inner sep=0pt, sz={101.7}{74}] (mark) at (776.5,248.5) {}; %
\end{tikzpicture}
\end{document}
